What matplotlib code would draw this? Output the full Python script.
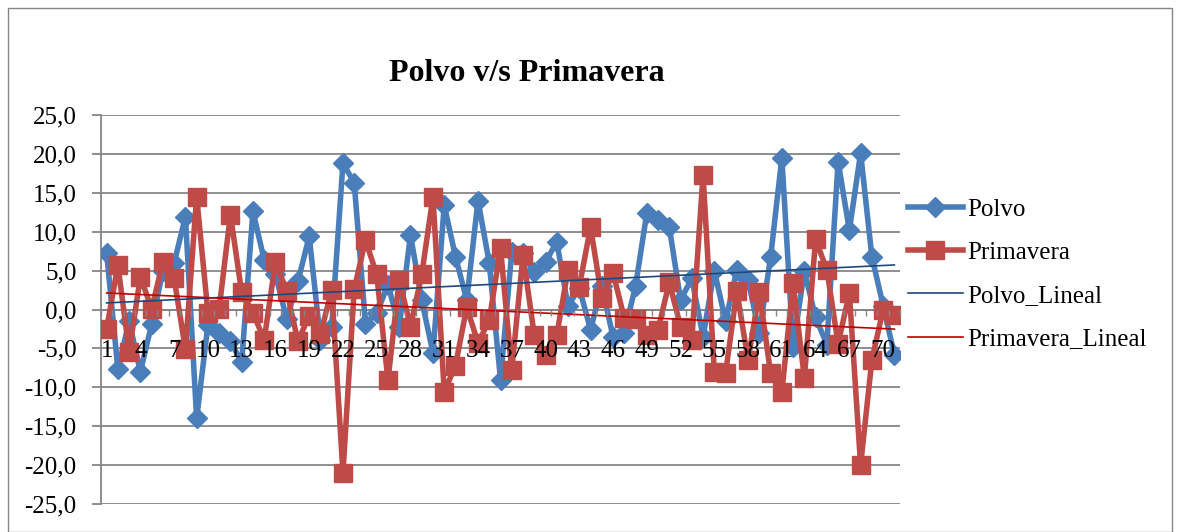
import numpy as np
import matplotlib
matplotlib.use('Agg')
import matplotlib.pyplot as plt
from matplotlib.patches import Rectangle
from matplotlib.ticker import FuncFormatter

plt.rcParams['font.family'] = ['Liberation Serif', 'DejaVu Serif']

# dias 1..71
dias = np.arange(1, 72)

polvo = [7.3, -7.7, -1.5, -8.0, -1.9, 5.0, 6.0, 11.9, -14.0, -2.0,
         -3.0, -4.1, -6.8, 12.6, 6.4, 4.5, -1.2, 3.6, 9.4, -3.9,
         -2.2, 18.8, 16.3, -1.8, -0.5, 3.2, -2.2, 9.6, 1.2, -5.6,
         13.4, 6.8, 1.2, 14.0, 6.0, -9.0, 7.4, 7.2, 4.8, 6.1,
         8.7, 0.4, 2.8, -2.6, 3.0, -3.5, -3.0, 3.0, 12.4, 11.5,
         10.6, 1.2, 4.0, -3.5, 5.0, -1.5, 5.1, 3.8, -3.0, 6.7,
         19.5, -4.8, 4.9, -1.0, -4.5, 19.0, 10.2, 20.1, 6.8, 0.5,
         -5.8]

primavera = [-2.5, 5.7, -5.4, 4.2, 0.1, 6.1, 4.0, -5.1, 14.5, -0.4,
             0.1, 12.2, 2.2, -0.4, -3.9, 6.1, 2.4, -4.1, -0.8, -3.2,
             2.5, -21.0, 2.6, 8.9, 4.5, -9.1, 3.8, -2.2, 4.5, 14.5,
             -10.6, -7.2, 0.3, -4.3, -1.4, 7.9, -7.8, 7.0, -3.3, -5.9,
             -3.3, 5.1, 2.9, 10.6, 1.5, 4.7, -1.1, -1.2, -3.3, -2.6,
             3.5, -2.2, -3.9, 17.3, -8.0, -8.2, 2.4, -6.5, 2.3, -8.2,
             -10.6, 3.4, -8.8, 9.0, 5.1, -4.4, 2.1, -20.0, -6.5, 0.0,
             -0.7]

ticks_x = dias[::3]
ticks_y = [-25, -20, -15, -10, -5, 0, 5, 10, 15, 20, 25]

# tendencias lineales
cp = np.polyfit(dias, polvo, 1)
cr = np.polyfit(dias, primavera, 1)

gris = '#868686'

fig = plt.figure(figsize=(11.78, 5.32), dpi=100)
ax = fig.add_axes([101/1178, 1 - 504/532, 799/1178, 389/532])

ax.plot(dias, polvo, color='#4A7EBB', lw=4, marker='D', ms=10,
        mec='#4A7EBB', label='Polvo', zorder=3)
ax.plot(dias, primavera, color='#BE4B48', lw=4, marker='s', ms=13.5,
        mec='#BE4B48', label='Primavera', zorder=4)
ax.plot(dias, np.polyval(cp, dias), color='#1F497D', lw=1.2,
        label='Polvo_Lineal', zorder=5)
ax.plot(dias, np.polyval(cr, dias), color='#C00000', lw=1.2,
        label='Primavera_Lineal', zorder=5)

ax.set_xlim(0.5, 71.5)
ax.set_ylim(-25, 25)
ax.set_yticks(ticks_y)
ax.yaxis.set_major_formatter(FuncFormatter(lambda v, p: f'{v:.1f}'.replace('.', ',')))
ax.set_xticks(ticks_x)
ax.set_xticklabels([str(d) for d in ticks_x])
ax.set_xticks(np.arange(0.5, 72, 1), minor=True)

ax.grid(axis='y', color=gris, lw=1.3)
ax.set_axisbelow(True)
# etiquetas del eje x por encima de las series
ax.xaxis.set_zorder(6)

for s in ['top', 'right']:
    ax.spines[s].set_visible(False)
ax.spines['left'].set_color(gris)
ax.spines['left'].set_linewidth(1.3)
ax.spines['bottom'].set_position(('data', 0))
ax.spines['bottom'].set_color(gris)
ax.spines['bottom'].set_linewidth(1.3)

ax.tick_params(axis='y', length=6.5, width=1.3, color=gris, pad=11, labelsize=18)
ax.tick_params(axis='x', which='major', length=0, pad=22, labelsize=18)
ax.tick_params(axis='x', which='minor', length=4, width=1, color=gris)

fig.text(527/1178, 1 - 73/532, 'Polvo v/s Primavera', ha='center', va='center',
         fontsize=23, fontweight='bold')

fig.legend(loc='upper left', bbox_to_anchor=(908/1178, 1 - 198/532), frameon=False,
           fontsize=18, handlelength=2.2, handletextpad=0.15, labelspacing=0.83,
           borderaxespad=0, borderpad=0)

fig.patches.append(Rectangle((8/1178, 0), 1164/1178, 524/532, transform=fig.transFigure,
                             fill=False, ec=gris, lw=1))

fig.savefig('out.png', dpi=100)
